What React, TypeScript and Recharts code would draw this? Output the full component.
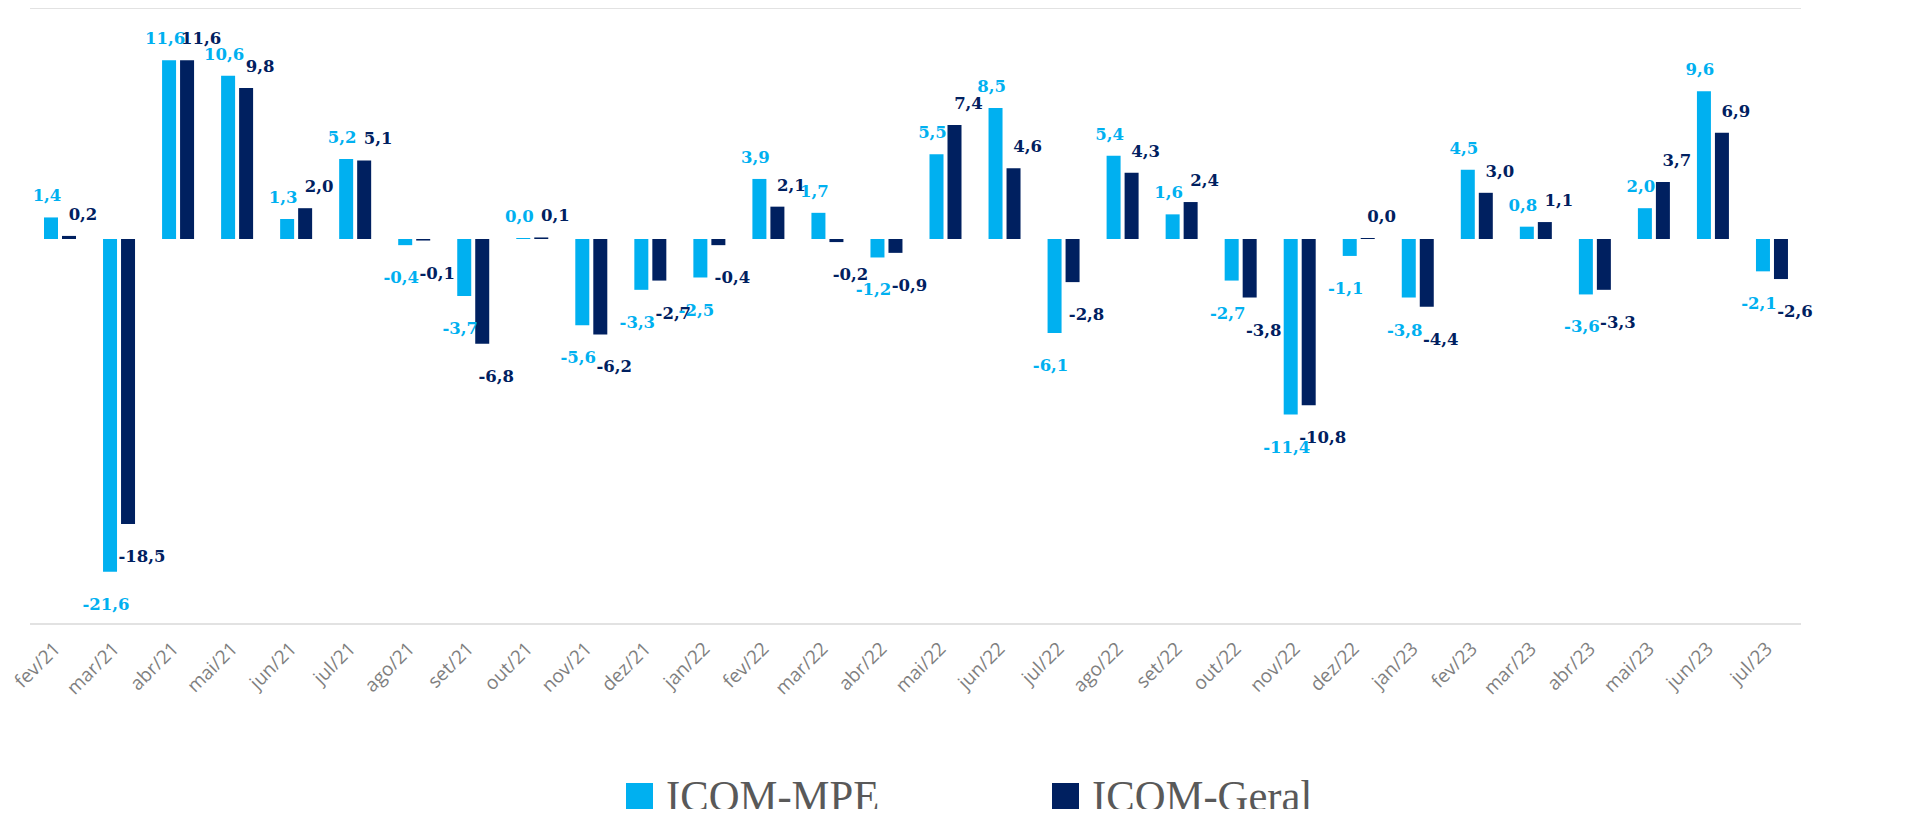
import { BarChart, Bar, XAxis, YAxis, CartesianGrid, Legend } from "recharts";

const months = [
  "fev/21", "mar/21", "abr/21", "mai/21", "jun/21", "jul/21", "ago/21", "set/21",
  "out/21", "nov/21", "dez/21", "jan/22", "fev/22", "mar/22", "abr/22", "mai/22",
  "jun/22", "jul/22", "ago/22", "set/22", "out/22", "nov/22", "dez/22", "jan/23",
  "fev/23", "mar/23", "abr/23", "mai/23", "jun/23", "jul/23",
];

const icomMpe = [
  1.4, -21.6, 11.6, 10.6, 1.3, 5.2, -0.4, -3.7, 0.0, -5.6, -3.3, -2.5, 3.9, 1.7, -1.2,
  5.5, 8.5, -6.1, 5.4, 1.6, -2.7, -11.4, -1.1, -3.8, 4.5, 0.8, -3.6, 2.0, 9.6, -2.1,
];

const icomGeral = [
  0.2, -18.5, 11.6, 9.8, 2.0, 5.1, -0.1, -6.8, 0.1, -6.2, -2.7, -0.4, 2.1, -0.2, -0.9,
  7.4, 4.6, -2.8, 4.3, 2.4, -3.8, -10.8, 0.0, -4.4, 3.0, 1.1, -3.3, 3.7, 6.9, -2.6,
];

const yTicks = [-25, -20, -15, -10, -5, 0, 5, 10, 15];

const data = months.map((m, i) => ({ name: m, mpe: icomMpe[i], geral: icomGeral[i] }));

const LIGHT = "#00B0F0";
const DARK = "#002060";

const fmt = (v: number) => v.toFixed(1).replace(".", ",");

const makeLabel = (color: string, dx: number) => (props: any) => {
  const { x, y, width, height, value } = props;
  const v = Number(value);
  const top = Math.min(y, y + height);
  const bottom = Math.max(y, y + height);
  const ty = v >= 0 ? top - 16 : bottom + 38;
  return (
    <text
      x={x + width / 2 + dx}
      y={ty}
      textAnchor="middle"
      fill={color}
      fontFamily="DejaVu Serif"
      fontWeight="bold"
      fontSize={16.5}
    >
      {fmt(v)}
    </text>
  );
};

// keep zero-value bars so their labels still render
const zeroSize = (v: number) => (v === 0 ? 1 : 0);

const MonthTick = (props: any) => {
  const { x, y, payload } = props;
  return (
    <g transform={`translate(${x + 2},${y + 18})`}>
      <text
        x={0}
        y={0}
        textAnchor="end"
        transform="rotate(-45)"
        fill="#7f7f7f"
        fontFamily="Open Sans"
        fontSize={19}
      >
        {payload.value}
      </text>
    </g>
  );
};

const LegendBox = () => {
  const items = [
    { label: "ICOM-MPE", color: LIGHT, x: 626 },
    { label: "ICOM-Geral", color: DARK, x: 1052 },
  ];
  return (
    <svg width={1915} height={56} style={{ display: "block", overflow: "visible" }}>
      {items.map((it) => (
        <g key={it.label}>
          <rect x={it.x} y={22} width={27} height={27} fill={it.color} />
          <text
            x={0}
            y={50}
            fill="#595959"
            fontFamily="Liberation Serif"
            fontSize={44}
            transform={`translate(${it.x + 40},0) scale(0.97,1)`}
          >
            {it.label}
          </text>
        </g>
      ))}
    </svg>
  );
};

export default function App() {
  return (
    <div style={{ margin: -8 }}>
      <BarChart
        width={1915}
        height={817}
        data={data}
        margin={{ top: 8, right: 114, left: 30, bottom: 0 }}
        barSize={14}
        barGap={4}
      >
        <CartesianGrid vertical={false} stroke="#d9d9d9" strokeWidth={1.5} />
        <XAxis
          dataKey="name"
          axisLine={false}
          tickLine={false}
          interval={0}
          height={137}
          tick={<MonthTick />}
        />
        <YAxis
          domain={[-25, 15]}
          ticks={yTicks}
          width={0}
          tick={false}
          axisLine={false}
          tickLine={false}
        />
        <Legend
          verticalAlign="bottom"
          height={56}
          wrapperStyle={{ left: 0, width: 1915, bottom: 0 }}
          content={<LegendBox />}
        />
        <Bar
          dataKey="mpe"
          name="ICOM-MPE"
          fill={LIGHT}
          minPointSize={zeroSize}
          isAnimationActive={false}
          label={makeLabel(LIGHT, -4)}
        />
        <Bar
          dataKey="geral"
          name="ICOM-Geral"
          fill={DARK}
          minPointSize={zeroSize}
          isAnimationActive={false}
          label={makeLabel(DARK, 14)}
        />
      </BarChart>
    </div>
  );
}
